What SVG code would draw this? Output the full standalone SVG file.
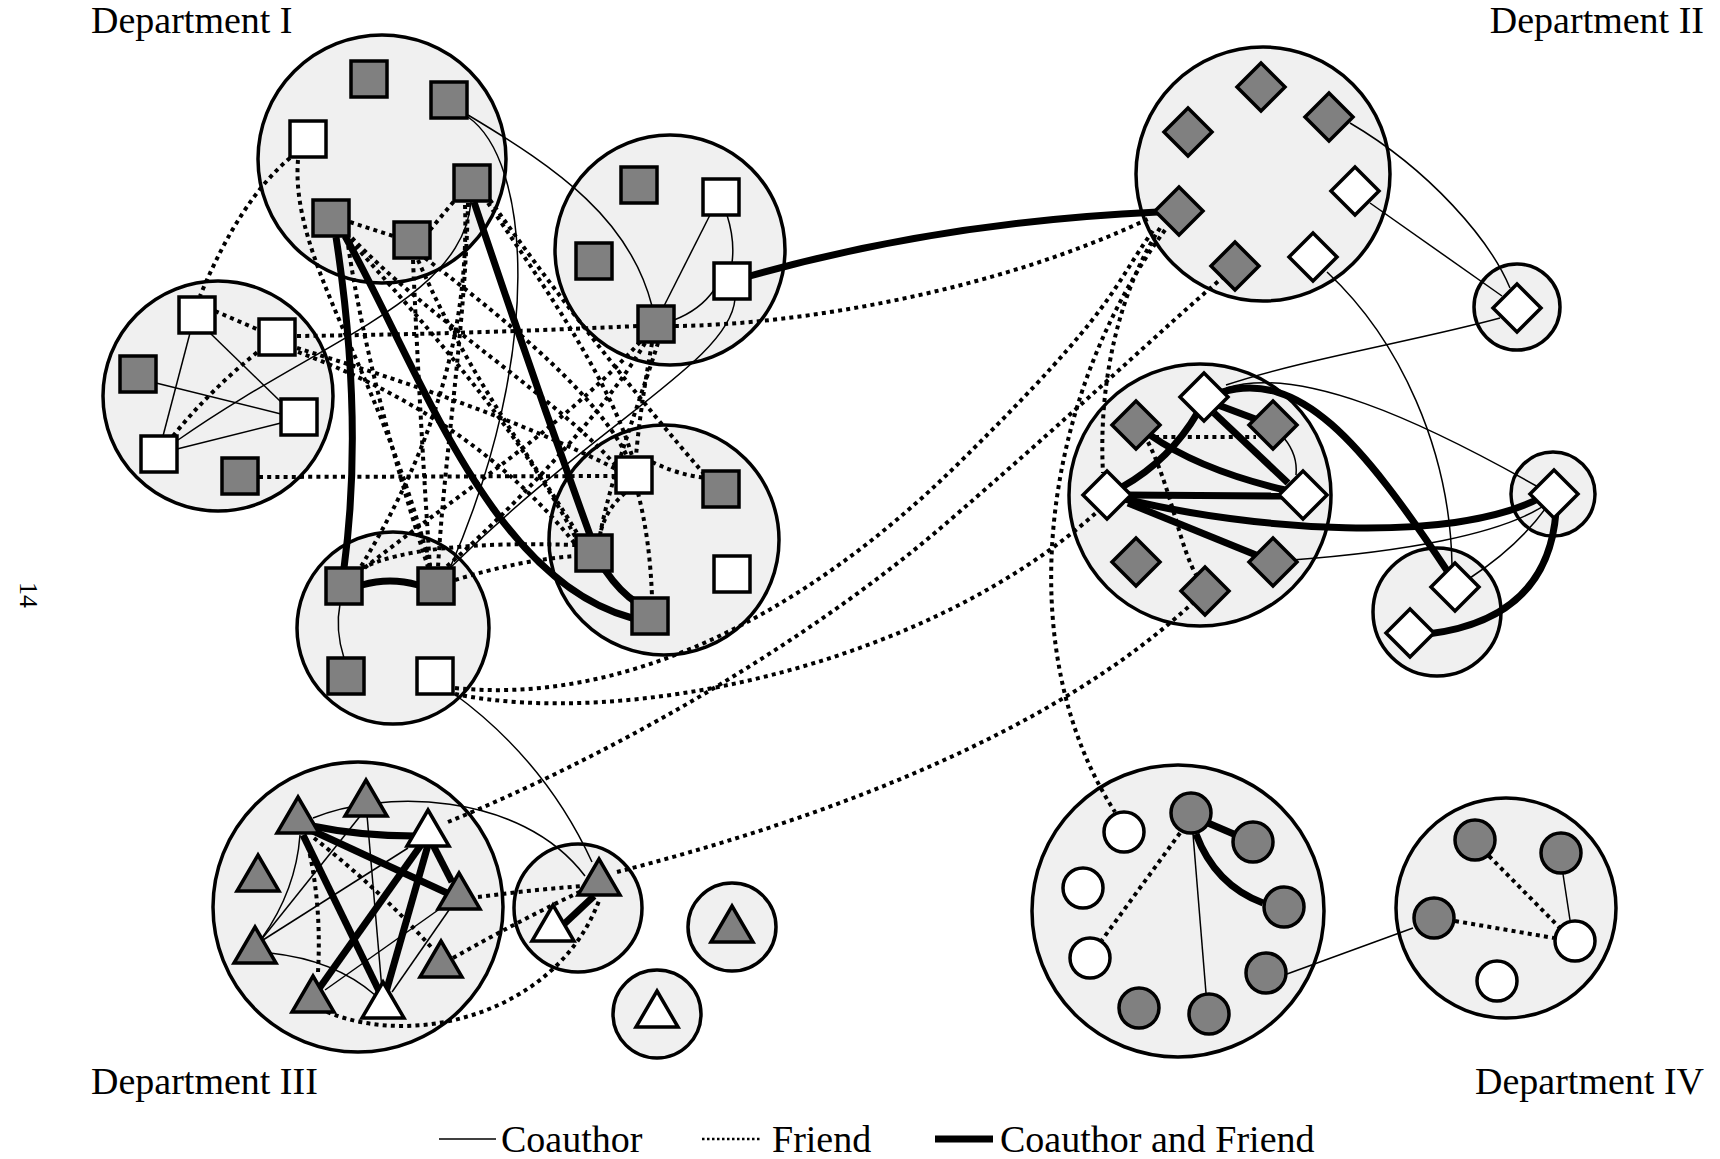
<svg xmlns="http://www.w3.org/2000/svg" width="1720" height="1159" viewBox="0 0 1720 1159">
<style>
.bg{fill:#fff}
.cl{fill:#f0f0f0;stroke:#000;stroke-width:3.5}
.g{fill:#808080;stroke:#000;stroke-width:3.5}
.w{fill:#fff;stroke:#000;stroke-width:3.5}
.co{fill:none;stroke:#000;stroke-width:1.5}
.fr{fill:none;stroke:#000;stroke-width:4;stroke-dasharray:4 4.2}
.cf{fill:none;stroke:#000;stroke-width:7}
.lb{font-family:"Liberation Serif","Times New Roman",serif;font-size:38px;fill:#000}
</style>
<rect class="bg" x="0" y="0" width="1720" height="1159"/>

<g id="clusters">
<circle id="c-d1a" class="cl" cx="382" cy="159" r="124"/>
<circle id="c-d1b" class="cl" cx="218" cy="396" r="115"/>
<circle id="c-d1c" class="cl" cx="670" cy="250" r="115"/>
<circle id="c-d1d" class="cl" cx="393" cy="628" r="96"/>
<circle id="c-d1e" class="cl" cx="664" cy="540" r="115"/>
<circle id="c-d2a" class="cl" cx="1263" cy="174" r="127"/>
<circle id="c-d2b" class="cl" cx="1517" cy="307" r="43"/>
<circle id="c-d2c" class="cl" cx="1200" cy="495" r="131"/>
<circle id="c-d2d" class="cl" cx="1553" cy="494" r="42"/>
<circle id="c-d2e" class="cl" cx="1437" cy="612" r="64"/>
<circle id="c-d3a" class="cl" cx="358" cy="907" r="145"/>
<circle id="c-d3b" class="cl" cx="578" cy="908" r="64"/>
<circle id="c-d3c" class="cl" cx="732" cy="927" r="44"/>
<circle id="c-d3d" class="cl" cx="657" cy="1014" r="44"/>
<circle id="c-d4a" class="cl" cx="1178" cy="911" r="146"/>
<circle id="c-d4b" class="cl" cx="1506" cy="908" r="110"/>
</g>

<g id="connectors">
<!-- Department I friend -->
<path class="fr" d="M 290 158 Q 240 200 200 296"/>
<path class="fr" d="M 298 160 C 290 260 380 370 430 566"/>
<path class="fr" d="M 350 222 L 393 236"/>
<path class="fr" d="M 430 230 L 455 200"/>
<path class="fr" d="M 347 238 C 360 330 390 450 428 567"/>
<path class="fr" d="M 468 203 C 465 330 445 450 438 567"/>
<path class="fr" d="M 488 203 C 540 280 610 380 632 456"/>
<path class="fr" d="M 418 260 C 470 380 540 470 580 538"/>
<path class="fr" d="M 425 258 C 520 330 600 400 628 458"/>
<path class="fr" d="M 413 260 Q 420 420 430 567"/>
<path class="fr" d="M 352 238 C 430 320 560 400 618 468"/>
<path class="fr" d="M 350 240 C 430 330 520 430 578 542"/>
<path class="fr" d="M 490 200 C 560 300 640 400 705 475"/>
<path class="fr" d="M 465 205 C 470 350 420 470 360 568"/>
<path class="fr" d="M 297 336 Q 470 334 637 326"/>
<path class="fr" d="M 297 348 C 400 380 520 420 618 470"/>
<path class="fr" d="M 298 352 C 400 390 500 450 576 545"/>
<path class="fr" d="M 259 477 L 616 476"/>
<path class="fr" d="M 640 342 C 560 430 450 500 362 570"/>
<path class="fr" d="M 645 343 C 600 420 500 520 445 568"/>
<path class="fr" d="M 652 343 Q 640 410 636 456"/>
<path class="fr" d="M 658 343 C 640 400 610 480 600 535"/>
<path class="fr" d="M 638 493 Q 650 540 652 597"/>
<path class="fr" d="M 625 493 Q 605 510 600 535"/>
<path class="fr" d="M 362 568 Q 420 540 576 545"/>
<path class="fr" d="M 455 580 Q 520 560 576 556"/>
<path class="fr" d="M 652 462 Q 690 480 721 478"/>
<path class="fr" d="M 215 311 L 259 330"/>
<path class="fr" d="M 173 436 Q 210 390 260 350"/>
<!-- Department I coauthor -->
<path class="co" d="M 190 333 L 163 436"/>
<path class="co" d="M 210 333 L 281 402"/>
<path class="co" d="M 156 383 L 281 414"/>
<path class="co" d="M 177 449 L 281 423"/>
<path class="co" d="M 471 202 C 462 300 320 340 178 440"/>
<path class="co" d="M 468 115 C 560 170 630 220 652 306"/>
<path class="co" d="M 468 117 C 530 160 545 350 450 568"/>
<path class="co" d="M 710 215 L 664 306"/>
<path class="co" d="M 727 215 Q 735 240 732 263"/>
<path class="co" d="M 714 290 Q 700 310 674 320"/>
<path class="co" d="M 735 299 C 730 360 600 420 450 568"/>
<path class="co" d="M 340 604 Q 335 630 344 658"/>
<path class="co" d="M 453 693 Q 545 760 592 862"/>
<!-- Department I coauthor and friend -->
<path class="cf" d="M 336 237 Q 364 420 344 568"/>
<path class="cf" d="M 345 236 C 420 370 490 580 632 618"/>
<path class="cf" d="M 474 202 Q 530 370 590 535"/>
<path class="cf" d="M 605 570 Q 620 592 637 603"/>
<path class="cf" d="M 362 585 Q 390 577 418 585"/>
<path class="cf" d="M 750 276 Q 940 222 1158 212"/>
<!-- long friend lines -->
<path class="fr" d="M 675 326 C 800 325 1000 290 1150 218"/>
<path class="fr" d="M 455 688 C 620 705 800 620 960 462 S 1110 290 1155 228"/>
<path class="fr" d="M 448 822 C 600 760 800 650 950 520 S 1150 340 1222 278"/>
<path class="fr" d="M 455 694 C 620 728 920 670 1097 512"/>
<path class="fr" d="M 617 872 C 800 825 1050 740 1200 596"/>
<path class="fr" d="M 1160 228 C 1120 290 1098 380 1103 473"/>
<path class="fr" d="M 1165 230 C 1040 400 1010 650 1115 812"/>
<!-- Department II -->
<path class="co" d="M 1350 123 C 1430 170 1490 240 1510 288"/>
<path class="co" d="M 1370 203 L 1502 296"/>
<path class="co" d="M 1327 272 C 1400 340 1450 450 1452 565"/>
<path class="co" d="M 1226 385 C 1300 360 1420 340 1500 318"/>
<path class="co" d="M 1226 388 C 1300 365 1420 420 1540 488"/>
<path class="co" d="M 1284 438 Q 1298 455 1296 475"/>
<path class="co" d="M 1292 560 C 1400 552 1500 535 1545 505"/>
<path class="co" d="M 1470 578 Q 1520 545 1548 505"/>
<path class="fr" d="M 1155 437 L 1256 437"/>
<path class="fr" d="M 1148 442 C 1172 490 1180 550 1198 578"/>
<path class="cf" d="M 1198 412 Q 1170 460 1122 487"/>
<path class="cf" d="M 1218 405 L 1258 420"/>
<path class="cf" d="M 1214 413 L 1288 483"/>
<path class="cf" d="M 1150 435 Q 1200 470 1285 490"/>
<path class="cf" d="M 1125 495 L 1285 496"/>
<path class="cf" d="M 1125 499 C 1250 530 1450 545 1540 498"/>
<path class="cf" d="M 1128 503 L 1256 555"/>
<path class="cf" d="M 1428 634 C 1500 625 1550 590 1556 512"/>
<path class="cf" d="M 1222 392 C 1300 370 1360 440 1448 572"/>
<!-- Department III -->
<path class="co" d="M 300 835 Q 296 890 262 938"/>
<path class="co" d="M 361 815 L 261 940"/>
<path class="co" d="M 408 848 L 263 940"/>
<path class="co" d="M 441 908 L 325 990"/>
<path class="co" d="M 449 910 L 392 992"/>
<path class="co" d="M 270 953 Q 335 960 375 995"/>
<path class="co" d="M 367 815 L 382 990"/>
<path class="co" d="M 313 818 C 380 790 520 790 585 876"/>
<path class="fr" d="M 306 838 Q 322 900 318 972"/>
<path class="fr" d="M 314 838 Q 380 890 432 948"/>
<path class="fr" d="M 478 897 Q 530 890 583 886"/>
<path class="fr" d="M 453 958 Q 520 920 588 888"/>
<path class="fr" d="M 327 1012 C 420 1050 560 1010 600 898"/>
<path class="cf" d="M 312 826 Q 360 836 415 836"/>
<path class="cf" d="M 313 831 L 447 893"/>
<path class="cf" d="M 303 835 L 381 995"/>
<path class="cf" d="M 421 845 L 318 990"/>
<path class="cf" d="M 428 845 L 386 992"/>
<path class="cf" d="M 433 845 L 452 882"/>
<path class="cf" d="M 562 926 L 594 896"/>
<!-- Department IV -->
<path class="cf" d="M 1208 823 L 1236 835"/>
<path class="cf" d="M 1196 834 Q 1215 885 1263 903"/>
<path class="co" d="M 1193 834 L 1206 993"/>
<path class="fr" d="M 1180 833 L 1102 940"/>
<path class="co" d="M 1287 974 L 1413 928"/>
<path class="fr" d="M 1489 856 L 1560 928"/>
<path class="co" d="M 1563 874 L 1570 920"/>
<path class="fr" d="M 1455 921 L 1554 938"/>
</g>

<g id="nodes-dept1">
<g id="n-a1"><rect class="g" x="351" y="61" width="36" height="36"/></g>
<g id="n-a2"><rect class="g" x="431" y="82" width="36" height="36"/></g>
<g id="n-a3"><rect class="w" x="290" y="121" width="36" height="36"/></g>
<g id="n-a4"><rect class="g" x="454" y="165" width="36" height="36"/></g>
<g id="n-a5"><rect class="g" x="313" y="200" width="36" height="36"/></g>
<g id="n-a6"><rect class="g" x="394" y="222" width="36" height="36"/></g>
<g id="n-b1"><rect class="w" x="179" y="297" width="36" height="36"/></g>
<g id="n-b2"><rect class="w" x="259" y="319" width="36" height="36"/></g>
<g id="n-b3"><rect class="g" x="120" y="356" width="36" height="36"/></g>
<g id="n-b4"><rect class="w" x="281" y="399" width="36" height="36"/></g>
<g id="n-b5"><rect class="w" x="141" y="436" width="36" height="36"/></g>
<g id="n-b6"><rect class="g" x="222" y="458" width="36" height="36"/></g>
<g id="n-d1"><rect class="g" x="621" y="167" width="36" height="36"/></g>
<g id="n-d2"><rect class="w" x="703" y="179" width="36" height="36"/></g>
<g id="n-d3"><rect class="g" x="576" y="243" width="36" height="36"/></g>
<g id="n-d4"><rect class="w" x="714" y="263" width="36" height="36"/></g>
<g id="n-d5"><rect class="g" x="638" y="306" width="36" height="36"/></g>
<g id="n-e1"><rect class="g" x="326" y="568" width="36" height="36"/></g>
<g id="n-e2"><rect class="g" x="418" y="568" width="36" height="36"/></g>
<g id="n-e3"><rect class="g" x="328" y="658" width="36" height="36"/></g>
<g id="n-e4"><rect class="w" x="417" y="658" width="36" height="36"/></g>
<g id="n-f1"><rect class="w" x="616" y="457" width="36" height="36"/></g>
<g id="n-f2"><rect class="g" x="703" y="471" width="36" height="36"/></g>
<g id="n-f3"><rect class="g" x="576" y="535" width="36" height="36"/></g>
<g id="n-f4"><rect class="w" x="714" y="556" width="36" height="36"/></g>
<g id="n-f5"><rect class="g" x="632" y="598" width="36" height="36"/></g>
</g>

<g id="nodes-dept2">
<g id="n-g1"><polygon class="g" points="1261,63 1285,87 1261,111 1237,87"/></g>
<g id="n-g2"><polygon class="g" points="1188,108 1212,132 1188,156 1164,132"/></g>
<g id="n-g3"><polygon class="g" points="1329,93 1353,117 1329,141 1305,117"/></g>
<g id="n-g4"><polygon class="w" points="1355,167 1379,191 1355,215 1331,191"/></g>
<g id="n-g5"><polygon class="g" points="1179,187 1203,211 1179,235 1155,211"/></g>
<g id="n-g6"><polygon class="g" points="1235,242 1259,266 1235,290 1211,266"/></g>
<g id="n-g7"><polygon class="w" points="1313,233 1337,257 1313,281 1289,257"/></g>
<g id="n-h1"><polygon class="w" points="1517,284 1541,308 1517,332 1493,308"/></g>
<g id="n-k1"><polygon class="w" points="1204,373 1228,397 1204,421 1180,397"/></g>
<g id="n-k2"><polygon class="g" points="1136,401 1160,425 1136,449 1112,425"/></g>
<g id="n-k3"><polygon class="g" points="1273,401 1297,425 1273,449 1249,425"/></g>
<g id="n-k4"><polygon class="w" points="1107,471 1131,495 1107,519 1083,495"/></g>
<g id="n-k5"><polygon class="w" points="1303,471 1327,495 1303,519 1279,495"/></g>
<g id="n-k6"><polygon class="g" points="1136,538 1160,562 1136,586 1112,562"/></g>
<g id="n-k7"><polygon class="g" points="1205,567 1229,591 1205,615 1181,591"/></g>
<g id="n-k8"><polygon class="g" points="1273,538 1297,562 1273,586 1249,562"/></g>
<g id="n-l1"><polygon class="w" points="1554,470 1578,494 1554,518 1530,494"/></g>
<g id="n-m1"><polygon class="w" points="1455,563 1479,587 1455,611 1431,587"/></g>
<g id="n-m2"><polygon class="w" points="1410,609 1434,633 1410,657 1386,633"/></g>
</g>

<g id="nodes-dept3">
<g id="n-t1"><polygon class="g" points="298,797 319,833 277,833"/></g>
<g id="n-t2"><polygon class="g" points="366,780 387,816 345,816"/></g>
<g id="n-t3"><polygon class="w" points="428,810 449,846 407,846"/></g>
<g id="n-t4"><polygon class="g" points="258,855 279,891 237,891"/></g>
<g id="n-t5"><polygon class="g" points="459,873 480,909 438,909"/></g>
<g id="n-t6"><polygon class="g" points="255,927 276,963 234,963"/></g>
<g id="n-t7"><polygon class="g" points="441,941 462,977 420,977"/></g>
<g id="n-t8"><polygon class="g" points="313,976 334,1012 292,1012"/></g>
<g id="n-t9"><polygon class="w" points="383,982 404,1018 362,1018"/></g>
<g id="n-p1"><polygon class="g" points="599,859 620,895 578,895"/></g>
<g id="n-p2"><polygon class="w" points="553,905 574,941 532,941"/></g>
<g id="n-q1"><polygon class="g" points="732,906 753,942 711,942"/></g>
<g id="n-q2"><polygon class="w" points="657,991 678,1027 636,1027"/></g>
</g>

<g id="nodes-dept4">
<g id="n-w1"><circle class="w" cx="1124" cy="832" r="20"/></g>
<g id="n-n1"><circle class="g" cx="1191" cy="813" r="20"/></g>
<g id="n-n2"><circle class="g" cx="1253" cy="842" r="20"/></g>
<g id="n-w2"><circle class="w" cx="1083" cy="888" r="20"/></g>
<g id="n-n3"><circle class="g" cx="1284" cy="907" r="20"/></g>
<g id="n-w3"><circle class="w" cx="1090" cy="958" r="20"/></g>
<g id="n-n4"><circle class="g" cx="1266" cy="973" r="20"/></g>
<g id="n-n5"><circle class="g" cx="1139" cy="1008" r="20"/></g>
<g id="n-n6"><circle class="g" cx="1209" cy="1014" r="20"/></g>
<g id="n-r1"><circle class="g" cx="1475" cy="840" r="20"/></g>
<g id="n-r2"><circle class="g" cx="1561" cy="853" r="20"/></g>
<g id="n-r3"><circle class="g" cx="1434" cy="918" r="20"/></g>
<g id="n-r4"><circle class="w" cx="1575" cy="941" r="20"/></g>
<g id="n-r5"><circle class="w" cx="1497" cy="981" r="20"/></g>
</g>

<g id="labels">
<text class="lb" x="91" y="33">Department I</text>
<text class="lb" x="1704" y="33" text-anchor="end">Department II</text>
<text class="lb" x="91" y="1094">Department III</text>
<text class="lb" x="1704" y="1094" text-anchor="end">Department IV</text>
<text class="lb" x="20" y="595" style="font-size:26px" text-anchor="middle" transform="rotate(90 20 595)">14</text>
</g>

<g id="legend">
<line class="co" x1="439" y1="1139" x2="496" y2="1139"/>
<text class="lb" x="501" y="1152">Coauthor</text>
<line x1="702" y1="1139" x2="760" y2="1139" stroke="#000" stroke-width="2.5" stroke-dasharray="2.5 2.5"/>
<text class="lb" x="772" y="1152">Friend</text>
<line class="cf" x1="935" y1="1139" x2="993" y2="1139"/>
<text class="lb" x="1000" y="1152">Coauthor and Friend</text>
</g>
</svg>
